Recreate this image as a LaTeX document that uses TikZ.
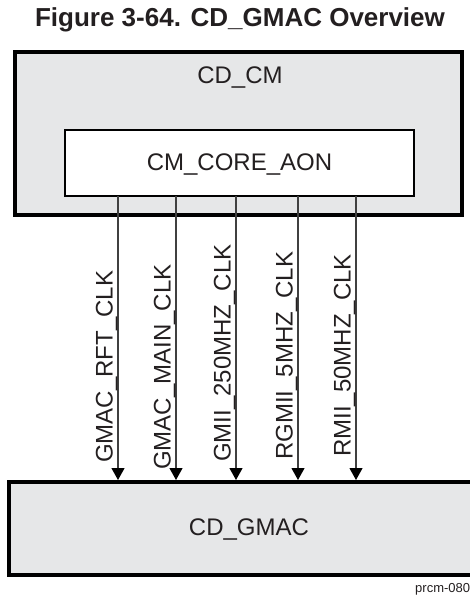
\documentclass[tikz,border=0pt]{standalone}
\usepackage{fontspec}
\setmainfont{Liberation Sans}
\usetikzlibrary{arrows.meta,positioning}
\definecolor{ink}{HTML}{231F20}
\definecolor{boxg}{HTML}{E6E7E8}
\definecolor{wire}{HTML}{404040}
\tikzset{
  dom/.style={draw=black,line width=4pt,fill=boxg,inner sep=0pt},
  sub/.style={draw=black,line width=2pt,fill=white,inner sep=0pt},
  clk/.style={wire,line width=1.1pt,-{Triangle[length=12pt,width=13pt,color=black]}},
  txt/.style={ink,inner sep=0pt,anchor=base,font=\fontsize{24}{28}\selectfont},
  clbl/.style={ink,inner sep=0pt,rotate=90,anchor=base west,font=\fontsize{24}{28}\selectfont},
}
\begin{document}
\begin{tikzpicture}[x=1pt,y=-1pt]
  \useasboundingbox (0,0) rectangle (470,596);
  \node[ink,inner sep=0pt,anchor=base,font=\fontsize{26}{30}\selectfont\bfseries] (title) at (240,27) {Figure 3-64. CD\_GMAC Overview};
  \node[dom,minimum width=447pt,minimum height=162.5pt] (cdcm) at (238.5,133.75) {};
  \node[txt] (cdcmlbl) at (240,84) {CD\_CM};
  \node[sub,minimum width=349pt,minimum height=66pt] (core) at (239.5,163) {};
  \node[txt] (corelbl) at (239.5,170) {CM\_CORE\_AON};
  \node[dom,minimum width=483pt,minimum height=93pt] (cdgmac) at (250.5,528.5) {};
  \node[txt] (cdgmaclbl) at (249,535) {CD\_GMAC};
  \foreach \i/\x/\y/\t in {1/118/463/GMAC\_RFT\_CLK,2/176/470/GMAC\_MAIN\_CLK,3/236/462/GMII\_250MHZ\_CLK,4/298/460/RGMII\_5MHZ\_CLK,5/356/457/RMII\_50MHZ\_CLK}{
    \coordinate (src\i) at (\x,196);
    \draw[clk] (src\i) -- (src\i |- cdgmac.north);
    \node[clbl] (lbl\i) at (\x-5.5,\y) {\t};
  }
  \node[ink,inner sep=0pt,anchor=base west,font=\fontsize{13}{15}\selectfont] (fig) at (415,592) {prcm-080};
\end{tikzpicture}
\end{document}
